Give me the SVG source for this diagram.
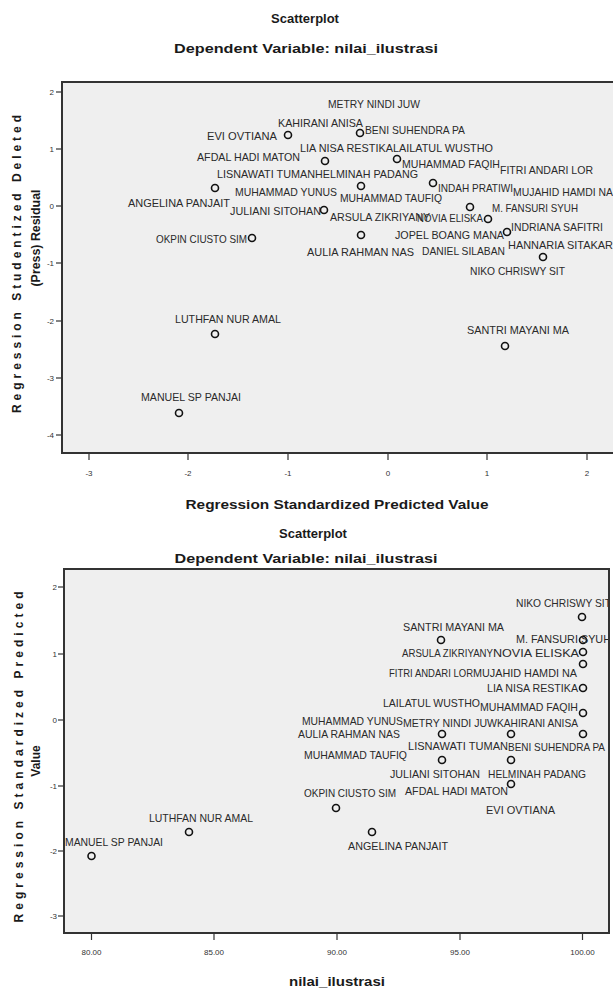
<svg xmlns="http://www.w3.org/2000/svg" width="613" height="992" viewBox="0 0 613 992">
<style>
.bg{fill:#ffffff}
.plot{fill:#efefef;stroke:#333;stroke-width:2}
.tk{stroke:#333;stroke-width:1.2}
.tl{font-family:"Liberation Sans",Arial,sans-serif;font-size:8px;fill:#333}
.ttl{font-family:"Liberation Sans",Arial,sans-serif;font-size:13px;font-weight:bold;fill:#1a1a1a}
.ax{font-family:"Liberation Sans",Arial,sans-serif;font-size:12px;font-weight:bold;fill:#1a1a1a}
.lb{font-family:"Liberation Sans",Arial,sans-serif;font-size:11px;fill:#2a2a2a}
.pt{fill:none;stroke:#111;stroke-width:1.6}
</style>
<defs>
<clipPath id="clipBottom"><rect x="65" y="570" width="543" height="362"/></clipPath>
</defs>
<rect class="bg" x="0" y="0" width="613" height="992"/>

<!-- ===== TOP PLOT ===== -->
<g id="top-titles">
<text class="ttl" x="305" y="23" text-anchor="middle">Scatterplot</text>
<text class="ttl" x="306" y="53" text-anchor="middle" textLength="264" lengthAdjust="spacingAndGlyphs">Dependent Variable: nilai_ilustrasi</text>
</g>
<g id="top-frame">
<rect class="plot" x="62" y="82" width="560" height="371"/>
</g>
<g id="top-yaxis">
<line class="tk" x1="56" y1="92" x2="62" y2="92"/>
<line class="tk" x1="56" y1="149" x2="62" y2="149"/>
<line class="tk" x1="56" y1="206" x2="62" y2="206"/>
<line class="tk" x1="56" y1="263" x2="62" y2="263"/>
<line class="tk" x1="56" y1="321" x2="62" y2="321"/>
<line class="tk" x1="56" y1="378" x2="62" y2="378"/>
<line class="tk" x1="56" y1="435" x2="62" y2="435"/>
<text class="tl" x="54" y="95" text-anchor="end">2</text>
<text class="tl" x="54" y="152" text-anchor="end">1</text>
<text class="tl" x="54" y="209" text-anchor="end">0</text>
<text class="tl" x="54" y="266" text-anchor="end">-1</text>
<text class="tl" x="54" y="324" text-anchor="end">-2</text>
<text class="tl" x="54" y="381" text-anchor="end">-3</text>
<text class="tl" x="54" y="438" text-anchor="end">-4</text>
<text class="ax" transform="translate(21,264) rotate(-90)" text-anchor="middle" textLength="298" lengthAdjust="spacing">Regression Studentized Deleted</text>
<text class="ax" transform="translate(40,238) rotate(-90)" text-anchor="middle" textLength="97" lengthAdjust="spacingAndGlyphs">(Press) Residual</text>
</g>
<g id="top-xaxis">
<line class="tk" x1="89" y1="453" x2="89" y2="460"/>
<line class="tk" x1="188" y1="453" x2="188" y2="460"/>
<line class="tk" x1="288" y1="453" x2="288" y2="460"/>
<line class="tk" x1="388" y1="453" x2="388" y2="460"/>
<line class="tk" x1="487" y1="453" x2="487" y2="460"/>
<line class="tk" x1="587" y1="453" x2="587" y2="460"/>
<text class="tl" x="89" y="476" text-anchor="middle">-3</text>
<text class="tl" x="188" y="476" text-anchor="middle">-2</text>
<text class="tl" x="288" y="476" text-anchor="middle">-1</text>
<text class="tl" x="388" y="476" text-anchor="middle">0</text>
<text class="tl" x="487" y="476" text-anchor="middle">1</text>
<text class="tl" x="587" y="476" text-anchor="middle">2</text>
<text class="ax" x="337" y="509" text-anchor="middle" textLength="303" lengthAdjust="spacingAndGlyphs">Regression Standardized Predicted Value</text>
</g>
<g id="top-points">
<circle class="pt" cx="288" cy="135" r="3.5"/>
<circle class="pt" cx="325" cy="161" r="3.5" stroke-width="2.2"/>
<circle class="pt" cx="215" cy="188" r="3.5"/>
<circle class="pt" cx="324" cy="210" r="3.5" stroke-width="2.2"/>
<circle class="pt" cx="252" cy="238" r="3.5"/>
<circle class="pt" cx="360" cy="133" r="3.5" stroke-width="2.2"/>
<circle class="pt" cx="397" cy="159" r="3.5" stroke-width="2.2"/>
<circle class="pt" cx="361" cy="186" r="3.5"/>
<circle class="pt" cx="433" cy="183" r="3.5"/>
<circle class="pt" cx="470" cy="207" r="3.5" stroke-width="2.2"/>
<circle class="pt" cx="488" cy="219" r="3.5"/>
<circle class="pt" cx="507" cy="232" r="3.5" stroke-width="2.2"/>
<circle class="pt" cx="361" cy="235" r="3.5"/>
<circle class="pt" cx="543" cy="257" r="3.5"/>
<circle class="pt" cx="215" cy="334" r="3.5"/>
<circle class="pt" cx="505" cy="346" r="3.5"/>
<circle class="pt" cx="179" cy="413" r="3.5"/>
</g>
<g id="top-labels">
<text class="lb" x="328" y="108" textLength="92" lengthAdjust="spacingAndGlyphs">METRY NINDI JUW</text>
<text class="lb" x="278" y="127" textLength="85" lengthAdjust="spacingAndGlyphs">KAHIRANI ANISA</text>
<text class="lb" x="207" y="140" textLength="70" lengthAdjust="spacingAndGlyphs">EVI OVTIANA</text>
<text class="lb" x="365" y="134" textLength="100" lengthAdjust="spacingAndGlyphs">BENI SUHENDRA PA</text>
<text class="lb" x="300" y="152" textLength="93" lengthAdjust="spacingAndGlyphs">LIA NISA RESTIKA</text>
<text class="lb" x="393" y="152" textLength="100" lengthAdjust="spacingAndGlyphs">LAILATUL WUSTHO</text>
<text class="lb" x="197" y="161" textLength="103" lengthAdjust="spacingAndGlyphs">AFDAL HADI MATON</text>
<text class="lb" x="402" y="168" textLength="98" lengthAdjust="spacingAndGlyphs">MUHAMMAD FAQIH</text>
<text class="lb" x="500" y="174" textLength="93" lengthAdjust="spacingAndGlyphs">FITRI ANDARI LOR</text>
<text class="lb" x="217" y="178" textLength="98" lengthAdjust="spacingAndGlyphs">LISNAWATI TUMAN</text>
<text class="lb" x="315" y="178" textLength="103" lengthAdjust="spacingAndGlyphs">HELMINAH PADANG</text>
<text class="lb" x="438" y="192" textLength="75" lengthAdjust="spacingAndGlyphs">INDAH PRATIWI</text>
<text class="lb" x="513" y="196" textLength="100" lengthAdjust="spacingAndGlyphs">MUJAHID HAMDI NA</text>
<text class="lb" x="235" y="196" textLength="102" lengthAdjust="spacingAndGlyphs">MUHAMMAD YUNUS</text>
<text class="lb" x="340" y="202" textLength="102" lengthAdjust="spacingAndGlyphs">MUHAMMAD TAUFIQ</text>
<text class="lb" x="128" y="207" textLength="102" lengthAdjust="spacingAndGlyphs">ANGELINA PANJAIT</text>
<text class="lb" x="492" y="212" textLength="86" lengthAdjust="spacingAndGlyphs">M. FANSURI  SYUH</text>
<text class="lb" x="230" y="215" textLength="91" lengthAdjust="spacingAndGlyphs">JULIANI  SITOHAN</text>
<text class="lb" x="330" y="221" textLength="100" lengthAdjust="spacingAndGlyphs">ARSULA ZIKRIYANY</text>
<text class="lb" x="417" y="222" textLength="66" lengthAdjust="spacingAndGlyphs">NOVIA ELISKA</text>
<text class="lb" x="511" y="231" textLength="92" lengthAdjust="spacingAndGlyphs">INDRIANA SAFITRI</text>
<text class="lb" x="395" y="239" textLength="109" lengthAdjust="spacingAndGlyphs">JOPEL BOANG MANA</text>
<text class="lb" x="156" y="243" textLength="91" lengthAdjust="spacingAndGlyphs">OKPIN CIUSTO SIM</text>
<text class="lb" x="508" y="249" textLength="105" lengthAdjust="spacingAndGlyphs">HANNARIA SITAKAR</text>
<text class="lb" x="307" y="256" textLength="107" lengthAdjust="spacingAndGlyphs">AULIA RAHMAN NAS</text>
<text class="lb" x="422" y="255" textLength="83" lengthAdjust="spacingAndGlyphs">DANIEL SILABAN</text>
<text class="lb" x="470" y="275" textLength="95" lengthAdjust="spacingAndGlyphs">NIKO CHRISWY SIT</text>
<text class="lb" x="175" y="323" textLength="106" lengthAdjust="spacingAndGlyphs">LUTHFAN NUR AMAL</text>
<text class="lb" x="467" y="334" textLength="102" lengthAdjust="spacingAndGlyphs">SANTRI MAYANI MA</text>
<text class="lb" x="141" y="401" textLength="100" lengthAdjust="spacingAndGlyphs">MANUEL SP PANJAI</text>
</g>

<!-- ===== BOTTOM PLOT ===== -->
<g id="bottom-titles">
<text class="ttl" x="313" y="538" text-anchor="middle">Scatterplot</text>
<text class="ttl" x="306" y="563" text-anchor="middle" textLength="263" lengthAdjust="spacingAndGlyphs">Dependent Variable: nilai_ilustrasi</text>
</g>
<g id="bottom-frame">
<rect class="plot" x="64" y="569" width="545" height="364"/>
</g>
<g id="bottom-yaxis">
<line class="tk" x1="58" y1="587" x2="64" y2="587"/>
<line class="tk" x1="58" y1="654" x2="64" y2="654"/>
<line class="tk" x1="58" y1="720" x2="64" y2="720"/>
<line class="tk" x1="58" y1="786" x2="64" y2="786"/>
<line class="tk" x1="58" y1="851" x2="64" y2="851"/>
<line class="tk" x1="58" y1="916" x2="64" y2="916"/>
<text class="tl" x="57" y="590" text-anchor="end">2</text>
<text class="tl" x="57" y="657" text-anchor="end">1</text>
<text class="tl" x="57" y="723" text-anchor="end">0</text>
<text class="tl" x="57" y="789" text-anchor="end">-1</text>
<text class="tl" x="57" y="854" text-anchor="end">-2</text>
<text class="tl" x="57" y="919" text-anchor="end">-3</text>
<text class="ax" transform="translate(23,757) rotate(-90)" text-anchor="middle" textLength="331" lengthAdjust="spacing">Regression Standardized Predicted</text>
<text class="ax" transform="translate(40,761) rotate(-90)" text-anchor="middle">Value</text>
</g>
<g id="bottom-xaxis">
<line class="tk" x1="91.5" y1="933" x2="91.5" y2="940"/>
<line class="tk" x1="214" y1="933" x2="214" y2="940"/>
<line class="tk" x1="337" y1="933" x2="337" y2="940"/>
<line class="tk" x1="460" y1="933" x2="460" y2="940"/>
<line class="tk" x1="582.5" y1="933" x2="582.5" y2="940"/>
<text class="tl" x="91.5" y="955" text-anchor="middle">80.00</text>
<text class="tl" x="214" y="955" text-anchor="middle">85.00</text>
<text class="tl" x="337" y="955" text-anchor="middle">90.00</text>
<text class="tl" x="460" y="955" text-anchor="middle">95.00</text>
<text class="tl" x="582.5" y="955" text-anchor="middle">100.00</text>
<text class="ax" x="337" y="986" text-anchor="middle" textLength="96" lengthAdjust="spacingAndGlyphs">nilai_ilustrasi</text>
</g>
<g id="bottom-points">
<circle class="pt" cx="582" cy="617" r="3.5"/>
<circle class="pt" cx="441" cy="640" r="3.5"/>
<circle class="pt" cx="583" cy="640" r="3.5" stroke-width="2.2"/>
<circle class="pt" cx="583" cy="652" r="3.5"/>
<circle class="pt" cx="583" cy="664" r="3.5" stroke-width="2.2"/>
<circle class="pt" cx="583" cy="688" r="3.5"/>
<circle class="pt" cx="583" cy="713" r="3.5" stroke-width="2.2"/>
<circle class="pt" cx="442" cy="734" r="3.5"/>
<circle class="pt" cx="511" cy="734" r="3.5"/>
<circle class="pt" cx="583" cy="734" r="3.5" stroke-width="2.2"/>
<circle class="pt" cx="442" cy="760" r="3.5" stroke-width="2.2"/>
<circle class="pt" cx="511" cy="760" r="3.5" stroke-width="2.2"/>
<circle class="pt" cx="511" cy="784" r="3.5"/>
<circle class="pt" cx="336" cy="808" r="3.5"/>
<circle class="pt" cx="189" cy="832" r="3.5"/>
<circle class="pt" cx="372" cy="832" r="3.5"/>
<circle class="pt" cx="91.5" cy="856" r="3.5"/>
</g>
<g id="bottom-labels" clip-path="url(#clipBottom)">
<text class="lb" x="516" y="607" textLength="95" lengthAdjust="spacingAndGlyphs">NIKO CHRISWY SIT</text>
<text class="lb" x="403" y="631" textLength="101" lengthAdjust="spacingAndGlyphs">SANTRI MAYANI MA</text>
<text class="lb" x="516" y="643" textLength="95" lengthAdjust="spacingAndGlyphs">M. FANSURI  SYUH</text>
<text class="lb" x="402" y="657" textLength="91" lengthAdjust="spacingAndGlyphs">ARSULA ZIKRIYANY</text>
<text class="lb" x="493" y="657" textLength="86" lengthAdjust="spacingAndGlyphs">NOVIA ELISKA</text>
<text class="lb" x="389" y="677" textLength="84" lengthAdjust="spacingAndGlyphs">FITRI ANDARI LOR</text>
<text class="lb" x="473" y="677" textLength="104" lengthAdjust="spacingAndGlyphs">MUJAHID HAMDI NA</text>
<text class="lb" x="487" y="692" textLength="91" lengthAdjust="spacingAndGlyphs">LIA NISA RESTIKA</text>
<text class="lb" x="383" y="707" textLength="97" lengthAdjust="spacingAndGlyphs">LAILATUL WUSTHO</text>
<text class="lb" x="480" y="711" textLength="98" lengthAdjust="spacingAndGlyphs">MUHAMMAD FAQIH</text>
<text class="lb" x="302" y="725" textLength="101" lengthAdjust="spacingAndGlyphs">MUHAMMAD YUNUS</text>
<text class="lb" x="403" y="727" textLength="94" lengthAdjust="spacingAndGlyphs">METRY NINDI JUW</text>
<text class="lb" x="497" y="727" textLength="81" lengthAdjust="spacingAndGlyphs">KAHIRANI ANISA</text>
<text class="lb" x="298" y="738" textLength="102" lengthAdjust="spacingAndGlyphs">AULIA RAHMAN NAS</text>
<text class="lb" x="408" y="750" textLength="100" lengthAdjust="spacingAndGlyphs">LISNAWATI  TUMAN</text>
<text class="lb" x="508" y="751" textLength="97" lengthAdjust="spacingAndGlyphs">BENI SUHENDRA PA</text>
<text class="lb" x="304" y="759" textLength="103" lengthAdjust="spacingAndGlyphs">MUHAMMAD TAUFIQ</text>
<text class="lb" x="390" y="778" textLength="90" lengthAdjust="spacingAndGlyphs">JULIANI  SITOHAN</text>
<text class="lb" x="488" y="778" textLength="98" lengthAdjust="spacingAndGlyphs">HELMINAH PADANG</text>
<text class="lb" x="405" y="795" textLength="103" lengthAdjust="spacingAndGlyphs">AFDAL HADI MATON</text>
<text class="lb" x="304" y="797" textLength="92" lengthAdjust="spacingAndGlyphs">OKPIN CIUSTO SIM</text>
<text class="lb" x="486" y="814" textLength="69" lengthAdjust="spacingAndGlyphs">EVI  OVTIANA</text>
<text class="lb" x="149" y="822" textLength="104" lengthAdjust="spacingAndGlyphs">LUTHFAN NUR AMAL</text>
<text class="lb" x="65" y="846" textLength="98" lengthAdjust="spacingAndGlyphs">MANUEL SP PANJAI</text>
<text class="lb" x="348" y="850" textLength="100" lengthAdjust="spacingAndGlyphs">ANGELINA PANJAIT</text>
</g>
</svg>
